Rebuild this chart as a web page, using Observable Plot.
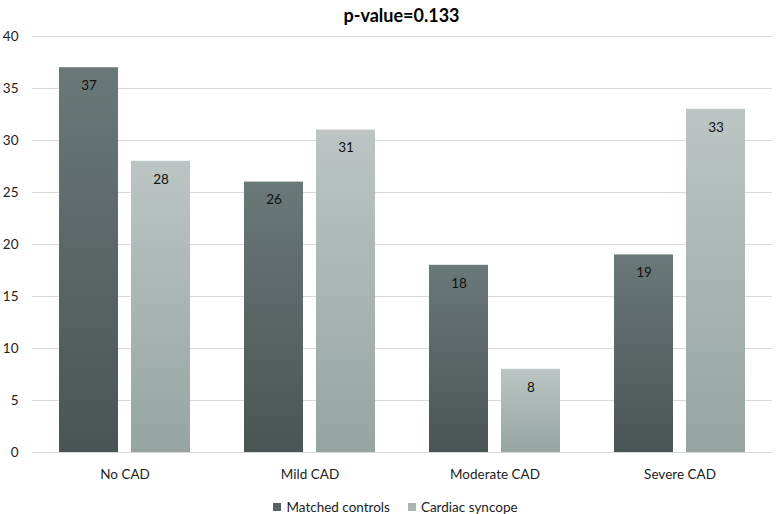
<!DOCTYPE html>
<html>
<head>
<meta charset="utf-8">
<script src="https://cdn.jsdelivr.net/npm/d3@7"></script>
<script src="https://cdn.jsdelivr.net/npm/@observablehq/plot@0.6"></script>
<style>
  body { margin: 0; background: #fff; font-family: Lato, "Open Sans", sans-serif; }
  #title { height: 28px; line-height: 30px; text-align: center; font-weight: bold; font-size: 18px; color: #000; padding-left: 26px; }
  #legend { display: flex; justify-content: center; gap: 18px; font-size: 13.5px; color: #222; margin-top: 11px; padding-left: 14px; }
  #legend span.sw { display: inline-block; width: 8px; height: 8px; margin-right: 5px; }
  #legend div { display: flex; align-items: center; }
</style>
</head>
<body>
<div id="title">p-value=0.133</div>
<div id="chart"></div>
<div id="legend"></div>
<script>
const categories = ["No CAD", "Mild CAD", "Moderate CAD", "Severe CAD"];
const seriesNames = ["Matched controls", "Cardiac syncope"];
const matchedControls = [37, 26, 18, 19];
const cardiacSyncope = [28, 31, 8, 33];
const yTicks = [0, 5, 10, 15, 20, 25, 30, 35, 40];

const data = [];
categories.forEach((c, i) => {
  data.push({cat: c, series: seriesNames[0], value: matchedControls[i]});
  data.push({cat: c, series: seriesNames[1], value: cardiacSyncope[i]});
});

function defs() {
  const ns = "http://www.w3.org/2000/svg";
  const d = document.createElementNS(ns, "defs");
  const grads = [
    ["gDark", "#6b7878", "#4a5455"],
    ["gLight", "#bcc5c4", "#96a5a2"]
  ];
  for (const [id, top, bot] of grads) {
    const g = document.createElementNS(ns, "linearGradient");
    g.setAttribute("id", id);
    g.setAttribute("x1", "0"); g.setAttribute("y1", "0");
    g.setAttribute("x2", "0"); g.setAttribute("y2", "1");
    const s1 = document.createElementNS(ns, "stop");
    s1.setAttribute("offset", "0"); s1.setAttribute("stop-color", top);
    const s2 = document.createElementNS(ns, "stop");
    s2.setAttribute("offset", "1"); s2.setAttribute("stop-color", bot);
    g.appendChild(s1); g.appendChild(s2);
    d.appendChild(g);
  }
  return d;
}

const chart = Plot.plot({
  width: 777,
  height: 460,
  marginTop: 8,
  marginBottom: 36,
  marginLeft: 30,
  marginRight: 4,
  style: {fontFamily: "Lato, 'Open Sans', sans-serif", fontSize: "13.5px", color: "#222", overflow: "visible"},
  fx: {domain: categories, padding: 0, label: null, axis: null},
  x: {domain: seriesNames, paddingInner: 0.183, paddingOuter: 0.37, axis: null},
  y: {domain: [0, 40], label: null},
  marks: [
    defs,
    Plot.ruleY(yTicks, {stroke: "#d9d9d9", strokeWidth: 1}),
    Plot.axisY({ticks: yTicks, tickSize: 0, tickPadding: 14, fontSize: 13.5, label: null}),
    Plot.axisFx({anchor: "bottom", tickSize: 0, tickPadding: 17, fontSize: 13.5, label: null}),
    Plot.barY(data.filter(d => d.series === seriesNames[0]), {fx: "cat", x: "series", y: "value", fill: "url(#gDark)"}),
    Plot.barY(data.filter(d => d.series === seriesNames[1]), {fx: "cat", x: "series", y: "value", fill: "url(#gLight)"}),
    Plot.text(data, {fx: "cat", x: "series", y: "value", text: d => String(d.value), dy: 18, fill: "#111", fontSize: 13.5})
  ]
});
document.getElementById("chart").appendChild(chart);

const legend = document.getElementById("legend");
[["#566262", seriesNames[0]], ["#a9b5b3", seriesNames[1]]].forEach(([c, n]) => {
  const div = document.createElement("div");
  div.innerHTML = `<span class="sw" style="background:${c}"></span>${n}`;
  legend.appendChild(div);
});
</script>
</body>
</html>
